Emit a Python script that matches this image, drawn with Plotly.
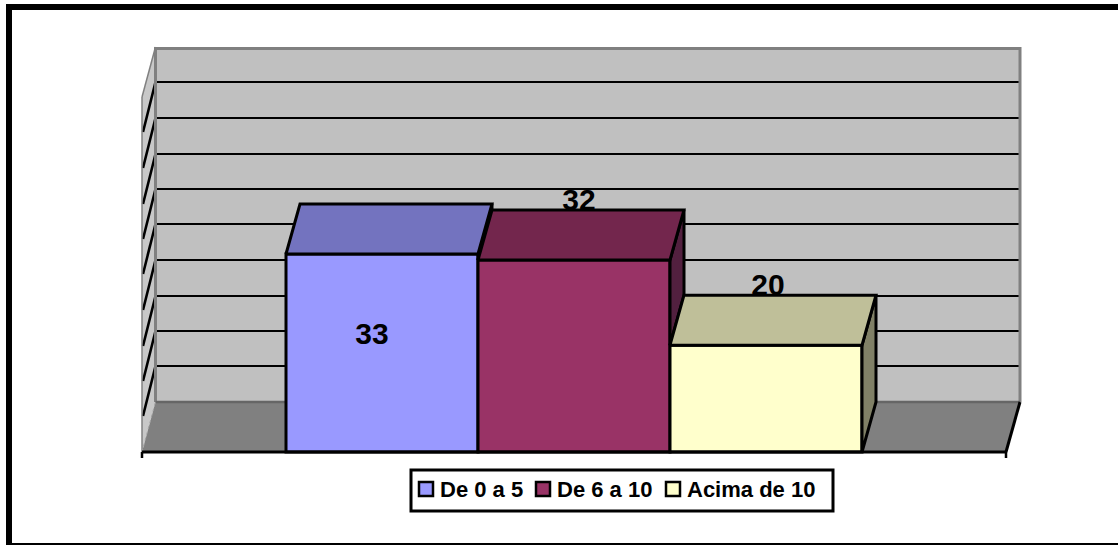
import plotly.graph_objects as go

# ---- data ----
categories = ["De 0 a 5", "De 6 a 10", "Acima de 10"]
bar_heights = [33, 32, 17.8]          # drawn height of each column
label_texts = ["33", "32", "20"]      # printed data labels

# ---- styles ----
front_colors = ["#9999FF", "#993366", "#FFFFCC"]
top_colors = ["#7373BF", "#73264D", "#BFBF99"]
side_colors = ["#4D4D80", "#52203F", "#808066"]
FONT = "Liberation Sans, Arial, sans-serif"

# ---- scales: one category = 192 px, one value unit = 6 px, figure is 1118x545 ----
W, H = 1118, 545
PX_X, PX_Y = 192.0, 6.0
X0_PX, Y0_PX = 382.0, 452.0
def ux(px): return (px - X0_PX) / PX_X
def uy(py): return (Y0_PX - py) / PX_Y
DX, DY = 14 / PX_X, 50 / PX_Y   # 3D depth offset

fig = go.Figure()
shapes = []
annotations = []

def poly(points, fill, line="rgba(0,0,0,0)", width=0, dash="solid", layer="below"):
    path = "M" + " L".join(f"{ux(x):.5f},{uy(y):.5f}" for x, y in points) + " Z"
    shapes.append(dict(type="path", path=path, xref="x", yref="y", fillcolor=fill,
                       line=dict(color=line, width=width, dash=dash), layer=layer))

def seg(x0, y0, x1, y1, color, width, dash="solid", layer="below"):
    shapes.append(dict(type="line", xref="x", yref="y", x0=ux(x0), y0=uy(y0), x1=ux(x1), y1=uy(y1),
                       line=dict(color=color, width=width, dash=dash), layer=layer))

# back wall, side wall, floor
poly([(155.5, 47), (1020, 47), (1020, 402), (155.5, 402)], "#C0C0C0")
poly([(142, 97), (155.5, 47), (155.5, 402), (142, 452)], "#C8C8C8")
grid_y = [round(402 - 35.5 * k) for k in range(1, 10)]
for gy in grid_y:
    seg(155.5, gy, 1020, gy, "#000000", 2.2)
    seg(143, gy + 50, 155.5, gy, "#000000", 2.6)
seg(155.5, 48.5, 1020, 48.5, "#808080", 3)
seg(1020, 47, 1020, 402, "#808080", 3)
seg(155.5, 47, 155.5, 402, "#808080", 3)
seg(155.5, 47, 142, 97, "#808080", 1.5)
seg(142, 97, 142, 452, "#808080", 1.5)
poly([(142, 452), (155.5, 402), (1020, 402), (1006, 452)], "#808080")
seg(155.5, 402, 1020, 402, "#666666", 2.5)
seg(142, 452, 155.5, 402, "#A0A0A0", 1, dash="dot")
seg(1006, 452, 1020, 402, "#000000", 3)
# axis line and end ticks
seg(142, 452, 1006, 452, "#000000", 3, layer="above")
seg(142, 452, 142, 458, "#000000", 2.5, layer="above")
seg(1006, 452, 1006, 458, "#000000", 2.5, layer="above")

# front faces
for i, (c, h) in enumerate(zip(categories, bar_heights)):
    fig.add_bar(x=[i], y=[h], width=1, name=c, showlegend=False, hoverinfo="skip",
                marker=dict(color=front_colors[i], line=dict(color="#000000", width=3)))

# labels and 3D faces, painted back to front
label_dx = [-10 / PX_X, 5 / PX_X, 2 / PX_X]
label_dy = [0.0, 58.0 / PX_Y, 58.0 / PX_Y]
outline = dict(color="#000000", width=3)
label_font = dict(family=FONT, size=30, color="#000000", weight="bold")
for i, h in enumerate(bar_heights):
    xl, xr = i - 0.5, i + 0.5
    low = bar_heights[i + 1] if i + 1 < len(bar_heights) else 0
    fig.add_scatter(x=[xr, xr + DX, xr + DX, xr, xr], y=[h, h + DY, low + DY, low, h],
                    mode="lines", fill="toself", fillcolor=side_colors[i], line=outline,
                    showlegend=False, hoverinfo="skip")
    if i > 0:
        fig.add_scatter(x=[i + label_dx[i]], y=[h + label_dy[i]], mode="text", text=[label_texts[i]],
                        textposition="middle center", showlegend=False, hoverinfo="skip",
                        textfont=label_font)
    fig.add_scatter(x=[xl, xl + DX, xr + DX, xr, xl], y=[h, h + DY, h + DY, h, h],
                    mode="lines", fill="toself", fillcolor=top_colors[i], line=outline,
                    showlegend=False, hoverinfo="skip")
fig.add_scatter(x=[0 + label_dx[0]], y=[bar_heights[0] * 0.5 + 2.67], mode="text", text=[label_texts[0]],
                textposition="middle center", showlegend=False, hoverinfo="skip",
                textfont=label_font)

# legend box
poly([(411, 470), (833, 470), (833, 511), (411, 511)], "#FFFFFF", "#000000", 3, layer="above")
swatch_x = [419, 536, 666]
for name, color, sx in zip(categories, front_colors, swatch_x):
    poly([(sx, 482), (sx + 14, 482), (sx + 14, 496), (sx, 496)], color, "#000000", 2.5, layer="above")
    annotations.append(dict(x=ux(sx + 19), y=uy(489), xref="x", yref="y", text=f"<b>{name}</b>",
                            showarrow=False, xanchor="left", yanchor="middle",
                            font=dict(family=FONT, size=22, color="#000000")))

# outer frame (left, top, bottom only)
def frame(x0, y0, x1, y1):
    shapes.append(dict(type="rect", xref="paper", yref="paper", x0=x0 / W, x1=x1 / W,
                       y0=1 - y0 / H, y1=1 - y1 / H, fillcolor="#000000", line=dict(width=0), layer="above"))
frame(6, 4, W, 10)
frame(6, 4, 12, H)
frame(6, 543, W, H)

fig.update_layout(
    width=W, height=H, autosize=False, margin=dict(l=0, r=0, t=0, b=0, pad=0),
    paper_bgcolor="#FFFFFF", plot_bgcolor="#FFFFFF", barmode="overlay",
    xaxis=dict(visible=False, range=[ux(0), ux(W)], fixedrange=True),
    yaxis=dict(visible=False, range=[uy(H), uy(0)], fixedrange=True),
    shapes=shapes, annotations=annotations, showlegend=False,
)
fig.write_html("out.html", config={"displayModeBar": False, "responsive": False},
               post_script="document.body.style.margin='0';document.documentElement.style.overflow='hidden';")
